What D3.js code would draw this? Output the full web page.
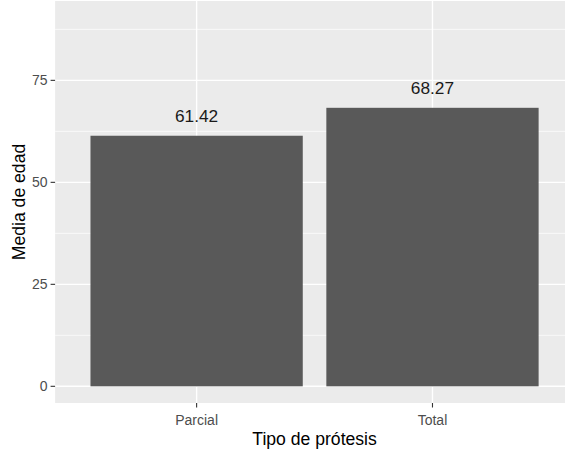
<!DOCTYPE html>
<html><head><meta charset="utf-8">
<script src="https://cdn.jsdelivr.net/npm/d3@7"></script>
<style>body{margin:0;background:#fff}svg{display:block;font-family:"Liberation Sans",Arial,sans-serif}</style>
</head><body>
<svg id="c" width="565" height="452"></svg>
<script>
const categories = ["Parcial", "Total"];
const values = [61.42, 68.27];
const labels = ["61.42", "68.27"];
const yTicks = [0, 25, 50, 75];
const yMinor = [12.5, 37.5, 62.5, 87.5];

const svg = d3.select("#c");
const W = 565, H = 452;
const pL = 55.1, pR = 574, pT = 1, pB = 403;

const x = d3.scaleBand().domain(categories).range([pL, pR]).paddingInner(0.0).paddingOuter(0);
// ggplot discrete: positions at 1,2, limits 0.4..2.6
const xc = d3.scaleLinear().domain([0.4, 2.6]).range([pL, pR]);
const pos = c => xc(categories.indexOf(c) + 1);
const y = d3.scaleLinear().domain([-4.09, 94.45]).range([pB, pT]);

const clip = svg.append("defs").append("clipPath").attr("id", "pc");
clip.append("rect").attr("x", pL).attr("y", pT).attr("width", pR - pL).attr("height", pB - pT);

const g = svg.append("g").attr("clip-path", "url(#pc)");
g.append("rect").attr("x", pL).attr("y", pT).attr("width", pR - pL).attr("height", pB - pT).attr("fill", "#EBEBEB");
g.selectAll(".ym").data(yMinor).join("line")
  .attr("x1", pL).attr("x2", pR).attr("y1", d => y(d)).attr("y2", d => y(d))
  .attr("stroke", "#fff").attr("stroke-width", 0.7);
g.selectAll(".yM").data(yTicks).join("line")
  .attr("x1", pL).attr("x2", pR).attr("y1", d => y(d)).attr("y2", d => y(d))
  .attr("stroke", "#fff").attr("stroke-width", 1.4);
g.selectAll(".xM").data(categories).join("line")
  .attr("x1", d => pos(d)).attr("x2", d => pos(d)).attr("y1", pT).attr("y2", pB)
  .attr("stroke", "#fff").attr("stroke-width", 1.4);

const bw = xc(1.45) - xc(0.55);
g.selectAll(".bar").data(values).join("rect")
  .attr("x", (d, i) => pos(categories[i]) - bw / 2)
  .attr("width", bw)
  .attr("y", d => y(d))
  .attr("height", d => y(0) - y(d))
  .attr("fill", "#595959");

g.selectAll(".lab").data(values).join("text")
  .attr("x", (d, i) => pos(categories[i]))
  .attr("y", d => y(d) - 13.5)
  .attr("text-anchor", "middle")
  .attr("font-size", "17.3px")
  .attr("fill", "#1a1a1a")
  .text((d, i) => labels[i]);

// Y axis
const ya = svg.append("g");
ya.selectAll("line").data(yTicks).join("line")
  .attr("x1", pL - 4.5).attr("x2", pL).attr("y1", d => y(d)).attr("y2", d => y(d))
  .attr("stroke", "#333").attr("stroke-width", 1.1);
ya.selectAll("text").data(yTicks).join("text")
  .attr("x", pL - 7.5).attr("y", d => y(d)).attr("dy", "0.36em")
  .attr("text-anchor", "end").attr("font-size", "14px").attr("fill", "#4D4D4D")
  .text(d => d);

// X axis
const xa = svg.append("g");
xa.selectAll("line").data(categories).join("line")
  .attr("x1", d => pos(d)).attr("x2", d => pos(d)).attr("y1", pB).attr("y2", pB + 4.5)
  .attr("stroke", "#333").attr("stroke-width", 1.1);
xa.selectAll("text").data(categories).join("text")
  .attr("x", d => pos(d)).attr("y", 425)
  .attr("text-anchor", "middle").attr("font-size", "14px").attr("fill", "#4D4D4D")
  .text(d => d);

svg.append("text").attr("x", (pL + pR) / 2).attr("y", 445)
  .attr("text-anchor", "middle").attr("font-size", "17.6px").attr("fill", "#000")
  .text("Tipo de prótesis");
svg.append("text").attr("transform", `translate(24.5,${(pT + pB) / 2}) rotate(-90)`)
  .attr("text-anchor", "middle").attr("font-size", "17.6px").attr("fill", "#000")
  .text("Media de edad");
</script>
</body></html>
